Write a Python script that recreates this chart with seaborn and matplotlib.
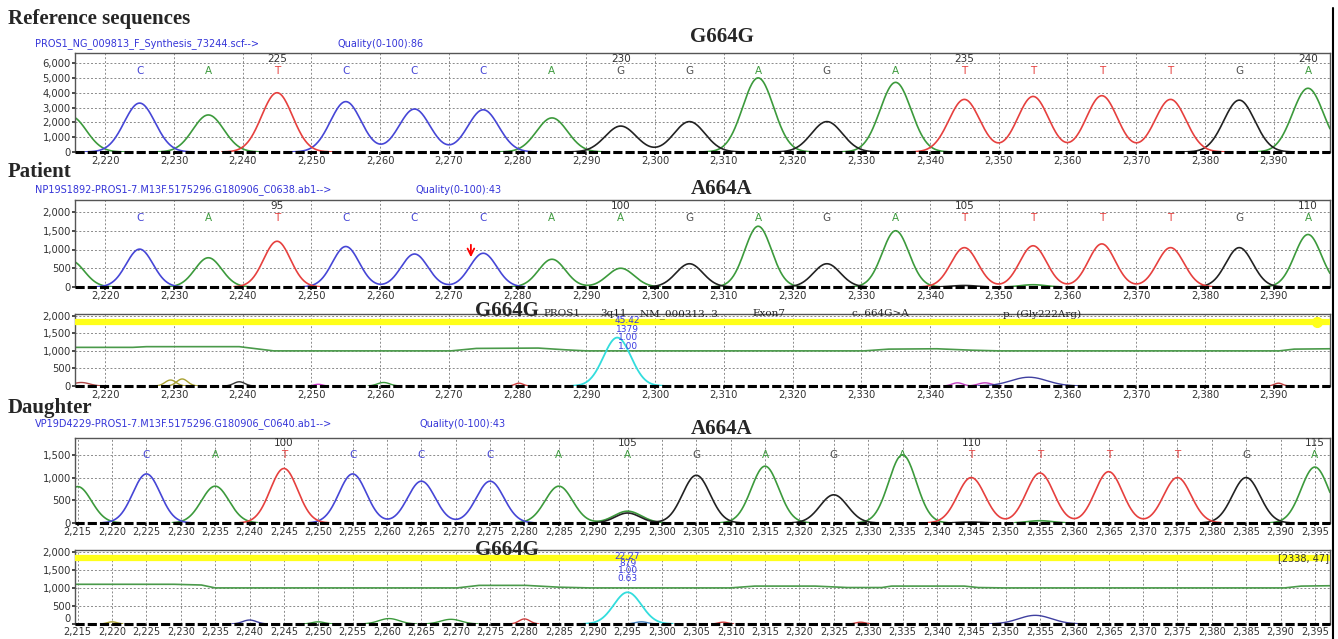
import numpy as np
import pandas as pd
import matplotlib
matplotlib.use('Agg')
import matplotlib.pyplot as plt
import seaborn as sns
from matplotlib.ticker import FuncFormatter
from matplotlib.lines import Line2D

sns.set_theme(style='white')
plt.rcParams['font.family'] = ['DejaVu Sans']

# ---- data ----
peak_pos = [2215, 2225, 2235, 2245, 2255, 2265, 2275, 2285, 2295, 2305,
            2315, 2325, 2335, 2345, 2355, 2365, 2375, 2385, 2395]

ref_bases = list('ACATCCCAGGAGATTTTGA')
ref_heights = [2400, 3300, 2500, 4000, 3400, 2900, 2850, 2300, 1750, 2050,
               5000, 2050, 4700, 3550, 3750, 3800, 3550, 3500, 4300]

pat_bases = list('ACATCCCAAGAGATTTTGA')
pat_heights = [700, 1010, 780, 1220, 1080, 880, 900, 740, 500, 620,
               1620, 620, 1500, 1050, 1100, 1150, 1050, 1050, 1400]
pat_minor_bases = ['G', 'A']
pat_minor_pos = [2345, 2355]
pat_minor_heights = [40, 60]

dau_bases = list('ACATCCCAAGAGATTTTGA')
dau_heights = [800, 1080, 810, 1200, 1080, 920, 920, 810, 260, 1050,
               1250, 620, 1500, 1000, 1100, 1130, 1000, 1000, 1230]
dau_minor_bases = ['G', 'G', 'A']
dau_minor_pos = [2295, 2345, 2355]
dau_minor_heights = [220, 20, 50]

ref_numbers = ['225', '230', '235', '240']
pat_numbers = ['95', '100', '105', '110']
dau_numbers = ['100', '105', '110', '115']
number_pos = [2245, 2295, 2345, 2395]

# mutation-difference traces
pdiff_green_x = [2215.6, 2224, 2226, 2239.5, 2244.5, 2270.3, 2274, 2283, 2287, 2290,
                 2330.4, 2334, 2341, 2346, 2350, 2390.8, 2393, 2398.2]
pdiff_green_y = [1100, 1100, 1120, 1120, 1000, 1000, 1070, 1080, 1030, 1000,
                 1000, 1050, 1060, 1020, 1000, 1000, 1050, 1060]
pdiff_bump_color = ['#b04848', '#a8a030', '#a8a030', '#333333', '#d040d0', '#3c9a3c',
                    '#d04040', '#c040c0', '#c040c0', '#4040a0', '#c04040']
pdiff_bump_pos = [2216.5, 2229.5, 2231.2, 2239.5, 2251, 2260.5, 2280.2, 2344, 2348, 2354.4, 2390.7]
pdiff_bump_h = [100, 170, 200, 120, 50, 100, 80, 90, 90, 250, 80]
pdiff_bump_w = [1.2, 0.8, 0.8, 0.8, 0.6, 0.9, 0.6, 0.8, 1.0, 2.6, 0.6]
pdiff_cyan = (2294.5, 1379)
pdiff_info = ['45.42', '1379', '1.00', '1.00']

ddiff_green_x = [2214.6, 2229, 2233, 2235, 2270.2, 2273.4, 2280.2, 2285, 2289.5, 2309.9,
                 2313.5, 2322.3, 2327, 2332, 2333.4, 2344, 2346, 2349.6, 2390.6, 2393, 2397.2]
ddiff_green_y = [1100, 1100, 1080, 1000, 1000, 1070, 1070, 1020, 1000, 1000,
                 1050, 1050, 1010, 1010, 1050, 1050, 1010, 1000, 1000, 1050, 1060]
ddiff_bump_color = ['#a8a030', '#4040a0', '#3c9a3c', '#3c9a3c', '#3c9a3c', '#d04040',
                    '#4080c0', '#d04040', '#d04040', '#4040a0']
ddiff_bump_pos = [2220, 2240, 2250, 2260.3, 2269.3, 2280, 2297, 2308.9, 2328.9, 2354.3]
ddiff_bump_h = [60, 110, 60, 150, 130, 140, 60, 50, 50, 240]
ddiff_bump_w = [0.7, 1.0, 0.9, 1.5, 1.5, 0.8, 0.9, 0.7, 0.7, 2.4]
ddiff_cyan = (2295, 879)
ddiff_info = ['22.27', '879', '1.00', '0.63']

variant_fields = ['PROS1', '3q11', 'NM_000313. 3', 'Exon7', 'c. 664G>A', 'p. (Gly222Arg)']
variant_field_px = [543, 600, 640, 752, 852, 1003]

# ---- styling ----
W, H = 1338, 639
base_colors = {'A': '#3c9a3c', 'C': '#4646d6', 'G': '#222222', 'T': '#e6403e'}
letter_colors = {'A': '#3c9a3c', 'C': '#4646d6', 'G': '#505050', 'T': '#e6403e'}
serif = ['Liberation Serif', 'DejaVu Serif']

fig = plt.figure(figsize=(W / 100, H / 100), dpi=100)
fig.patch.set_facecolor('white')


def add_ax(l, t, r, b):
    return fig.add_axes([l / W, 1 - b / H, (r - l) / W, (b - t) / H])


def ftext(x, y, s, **kw):
    kw.setdefault('va', 'center')
    fig.text(x / W, 1 - y / H, s, **kw)


def segments(x, y, thr=6):
    keep = y > thr
    unit = np.cumsum(~keep)
    return pd.DataFrame({'x': x[keep], 'y': y[keep], 'unit': unit[keep]})


def trace_frame(x, bases, pos, heights, sigma, minor=None):
    parts = []
    for b in 'ACGT':
        y = np.zeros_like(x)
        for bb, p, h in zip(bases, pos, heights):
            if bb == b:
                y += h * np.exp(-(x - p) ** 2 / (2 * sigma ** 2))
        if minor:
            for bb, p, h in zip(*minor):
                if bb == b:
                    y += h * np.exp(-(x - p) ** 2 / (2 * 1.8 ** 2))
        df = segments(x, y)
        df['base'] = b
        df['unit'] = b + df['unit'].astype(str)
        parts.append(df)
    return pd.concat(parts, ignore_index=True)


def style_axes(ax, xlim, xticks, ylim, yticks, xsize=7.2):
    ax.set_xlim(*xlim)
    ax.set_ylim(*ylim)
    ax.set_xticks(xticks)
    ax.set_yticks(yticks)
    fmt = FuncFormatter(lambda v, p: f'{int(v):,}')
    ax.xaxis.set_major_formatter(fmt)
    ax.yaxis.set_major_formatter(fmt)
    ax.grid(True, ls=(0, (2, 2)), color='#8a8a8a', lw=0.7)
    ax.tick_params(axis='both', labelsize=7.2, colors='#333333', length=2, pad=1,
                   direction='out', left=True, bottom=True)
    ax.tick_params(axis='x', labelsize=xsize)
    ax.set_xlabel('')
    ax.set_ylabel('')
    for side in ['left', 'top', 'right']:
        ax.spines[side].set_color('#555555')
        ax.spines[side].set_linewidth(1.0)
    ax.spines['bottom'].set_visible(False)
    ax.axhline(0, color='black', lw=2.2, ls=(0, (3, 1)), zorder=6, clip_on=False)


def draw_trace(ax, df, lw=1.2):
    sns.lineplot(data=df, x='x', y='y', hue='base', units='unit', estimator=None,
                 sort=False, palette=base_colors, legend=False, lw=lw, ax=ax)


def draw_calls(ax, bases, pos, ycall, numbers, ynum):
    for b, p in zip(bases[1:], pos[1:]):
        ax.text(p, ycall, b, color=letter_colors[b], ha='center', va='center', fontsize=7.5)
    for n, p in zip(numbers, number_pos):
        ax.text(p, ynum, n, color='#333333', ha='center', va='center', fontsize=7.5)


def draw_diff(ax, gx, gy, bcol, bpos, bh, bw, cyan, info, xgrid, info_y, info_x):
    ax.axhline(1830, color='#ffff1a', lw=4.5, zorder=3)
    sns.lineplot(x=gx, y=gy, color='#4a9a4a', lw=1.2, sort=False, estimator=None, ax=ax)
    for c, p, h, w in zip(bcol, bpos, bh, bw):
        y = h * np.exp(-(xgrid - p) ** 2 / (2 * w ** 2))
        df = segments(xgrid, y, thr=4)
        sns.lineplot(data=df, x='x', y='y', units='unit', estimator=None, sort=False,
                     color=c, lw=1.0, ax=ax)
    yc = cyan[1] * np.exp(-(xgrid - cyan[0]) ** 2 / (2 * 2.0 ** 2))
    df = segments(xgrid, yc, thr=4)
    sns.lineplot(data=df, x='x', y='y', units='unit', estimator=None, sort=False,
                 color='#33dddd', lw=1.3, ax=ax)
    for s, yy in zip(info, info_y):
        ax.text(info_x, yy, s, color='#3a3ae0', ha='center', va='center', fontsize=6.5, zorder=7)


xlim_top = (2215.6, 2398.2)
xlim_dau = (2214.6, 2397.2)
ticks_top = np.arange(2220, 2391, 10)
ticks_dau = np.arange(2215, 2396, 5)
x_top = np.linspace(*xlim_top, 2000)
x_dau = np.linspace(*xlim_dau, 2000)

# ---- Reference ----
ax1 = add_ax(75, 53, 1330, 152)
draw_trace(ax1, trace_frame(x_top, ref_bases, peak_pos, ref_heights, 2.25))
style_axes(ax1, xlim_top, ticks_top, (0, 6680), np.arange(0, 6001, 1000))
draw_calls(ax1, ref_bases, peak_pos, 5460, ref_numbers, 6250)

# ---- Patient ----
ax2 = add_ax(75, 200, 1330, 287)
draw_trace(ax2, trace_frame(x_top, pat_bases, peak_pos, pat_heights, 1.95,
                            (pat_minor_bases, pat_minor_pos, pat_minor_heights)))
style_axes(ax2, xlim_top, ticks_top, (0, 2320), np.arange(0, 2001, 500))
draw_calls(ax2, pat_bases, peak_pos, 1840, pat_numbers, 2170)
ax2.annotate('', xy=(2273.2, 720), xytext=(2273.2, 1200),
             arrowprops=dict(arrowstyle='->', color='red', lw=1.3))

# ---- Patient difference ----
ax3 = add_ax(75, 314, 1330, 386)
draw_diff(ax3, pdiff_green_x, pdiff_green_y, pdiff_bump_color, pdiff_bump_pos,
          pdiff_bump_h, pdiff_bump_w, pdiff_cyan, pdiff_info, x_top,
          [1860, 1620, 1370, 1120], 2296)
style_axes(ax3, xlim_top, ticks_top, (0, 2050), np.arange(0, 2001, 500))
ax3.plot([2396.3], [1830], 'o', color='#ffff1a', ms=7, zorder=4)

# ---- Daughter ----
ax4 = add_ax(75, 438, 1330, 523)
draw_trace(ax4, trace_frame(x_dau, dau_bases, peak_pos, dau_heights, 2.0,
                            (dau_minor_bases, dau_minor_pos, dau_minor_heights)))
style_axes(ax4, xlim_dau, ticks_dau, (0, 1870), np.arange(0, 1501, 500), xsize=7)
draw_calls(ax4, dau_bases, peak_pos, 1500, dau_numbers, 1770)

# ---- Daughter difference ----
ax5 = add_ax(75, 550, 1330, 624)
draw_diff(ax5, ddiff_green_x, ddiff_green_y, ddiff_bump_color, ddiff_bump_pos,
          ddiff_bump_h, ddiff_bump_w, ddiff_cyan, ddiff_info, x_dau,
          [1880, 1670, 1470, 1260], 2295)
style_axes(ax5, xlim_dau, ticks_dau, (0, 2050), np.arange(0, 2001, 500), xsize=7)
ax5.tick_params(axis='x', length=1.5, pad=0.5)
ax5.get_yticklabels()[0].set_va('bottom')
ax5.text(2397.0, 1830, '[2338, 47]', ha='right', va='center', fontsize=7,
         color='#333333', zorder=7)

# ---- figure texts ----
ftext(8, 19, 'Reference sequences', family=serif, weight='bold', fontsize=15)
ftext(8, 172, 'Patient', family=serif, weight='bold', fontsize=15)
ftext(8, 408, 'Daughter', family=serif, weight='bold', fontsize=15)

ftext(722, 37, 'G664G', family=serif, weight='bold', fontsize=15, ha='center')
ftext(722, 189, 'A664A', family=serif, weight='bold', fontsize=15, ha='center')
ftext(507, 311, 'G664G', family=serif, weight='bold', fontsize=15, ha='center')
ftext(722, 429, 'A664A', family=serif, weight='bold', fontsize=15, ha='center')
ftext(507, 550, 'G664G', family=serif, weight='bold', fontsize=15, ha='center')

blue = '#3535d8'
ftext(35, 44, 'PROS1_NG_009813_F_Synthesis_73244.scf-->', color=blue, fontsize=7)
ftext(337, 44, 'Quality(0-100):86', color=blue, fontsize=7)
ftext(35, 190, 'NP19S1892-PROS1-7.M13F.5175296.G180906_C0638.ab1-->', color=blue, fontsize=7)
ftext(415, 190, 'Quality(0-100):43', color=blue, fontsize=7)
ftext(35, 424, 'VP19D4229-PROS1-7.M13F.5175296.G180906_C0640.ab1-->', color=blue, fontsize=7)
ftext(419, 424, 'Quality(0-100):43', color=blue, fontsize=7)

for s, px in zip(variant_fields, variant_field_px):
    ftext(px, 314, s, family=['DejaVu Serif'], fontsize=7.5, color='#222222')

fig.add_artist(Line2D([1333 / W, 1333 / W], [0, 1 - 8 / H], color='black', lw=1.5))

fig.savefig('out.png', dpi=100)
